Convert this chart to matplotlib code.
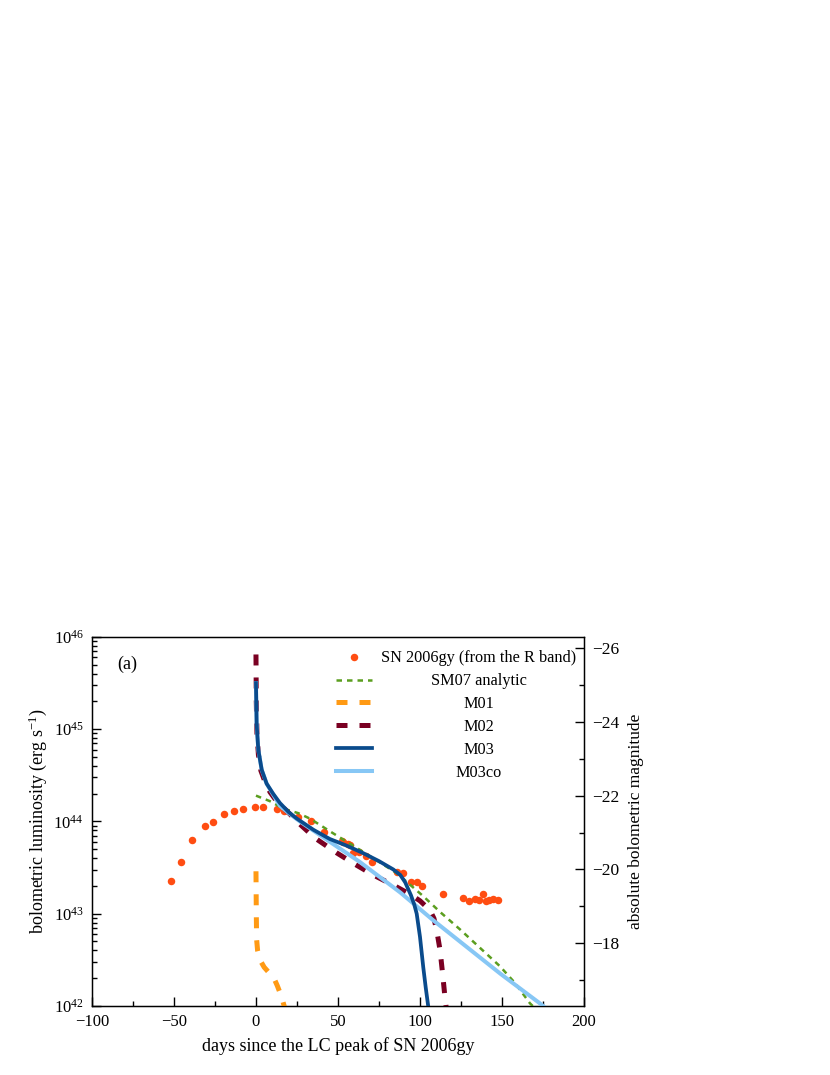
import numpy as np
import matplotlib
matplotlib.use("Agg")
import matplotlib.pyplot as plt
from matplotlib.ticker import LogLocator, LogFormatterMathtext, MultipleLocator, NullFormatter

plt.rcParams['font.family'] = ['Liberation Serif', 'DejaVu Serif']
plt.rcParams['mathtext.fontset'] = 'custom'
plt.rcParams['mathtext.rm'] = 'Liberation Serif'
plt.rcParams['mathtext.it'] = 'Liberation Serif:italic'
plt.rcParams['mathtext.bf'] = 'Liberation Serif:bold'
plt.rcParams['axes.unicode_minus'] = True

# ---------------- data ----------------
# SN 2006gy bolometric luminosity (from the R band): days, log10 L [erg/s]
sn_days = [-51.8, -45.9, -39.0, -31.3, -26.4, -19.5, -13.4, -7.7, -0.8, 4.1,
           13.0, 17.0, 25.8, 33.5, 41.5, 52.3, 53.2, 56.3, 57.3, 59.3, 63.0,
           67.1, 70.9, 85.8, 89.8, 94.5, 98.4, 101.0, 114.2, 126.0, 130.1,
           133.5, 136.0, 138.6, 140.2, 142.0, 144.7, 147.7]
sn_logL = [43.358, 43.558, 43.796, 43.954, 43.998, 44.078, 44.114, 44.136, 44.157, 44.157,
           44.132, 44.115, 44.052, 44.002, 43.889, 43.789, 43.780, 43.753, 43.745, 43.659, 43.673,
           43.626, 43.558, 43.456, 43.438, 43.341, 43.347, 43.304, 43.214, 43.174, 43.138,
           43.160, 43.150, 43.214, 43.138, 43.150, 43.160, 43.146]

# SM07 analytic
sm07_days = [0, 8.5, 16.6, 25.8, 33.0, 47.2, 65.4, 85.8, 102, 112.2, 124.4, 136.6, 148.8, 157.9, 167, 171]
sm07_logL = [44.28, 44.22, 44.14, 44.09, 44.03, 43.87, 43.67, 43.44, 43.19, 43.02, 42.83, 42.63, 42.43, 42.25, 42.03, 41.96]

# M01
m01_days = [0, 0.1, 0.2, 0.4, 1.0, 2.4, 5.0, 8.0, 10.5, 13.0, 15.6, 17.5]
m01_logL = [43.46, 43.25, 43.00, 42.72, 42.60, 42.50, 42.42, 42.36, 42.32, 42.22, 42.10, 41.98]

# M02
m02_days = [0, 0.2, 0.6, 1.5, 3.0, 5.5, 8.5, 12.6, 20.7, 26.8, 36, 49.2, 60, 71.5, 84.8,
            94, 100, 106, 108.5, 110.2, 112.2, 113.8, 115.2, 116.2]
m02_logL = [45.81, 45.30, 44.95, 44.72, 44.55, 44.43, 44.32, 44.22, 44.08, 43.97, 43.82, 43.66, 43.54, 43.42, 43.30,
            43.21, 43.14, 43.04, 42.95, 42.82, 42.61, 42.35, 42.10, 41.95]

# M03
m03_days = [0, 0.4, 1.4, 3.5, 6.5, 10.5, 14.6, 20, 25, 35, 45, 55, 65, 75, 83.7,
            88, 91, 94.5, 96.5, 98, 100, 102, 103.5, 105, 105.6]
m03_logL = [45.50, 45.06, 44.78, 44.56, 44.41, 44.30, 44.20, 44.10, 44.03, 43.91, 43.81, 43.74, 43.66, 43.57, 43.48,
            43.42, 43.34, 43.20, 43.10, 43.00, 42.75, 42.42, 42.20, 42.00, 41.90]

# M03co
m03co_days = [0, 0.4, 1.4, 3.5, 6.5, 10.5, 14.6, 20, 26.8, 45, 63.4, 88, 108, 128.5, 149, 173, 180]
m03co_logL = [45.50, 45.06, 44.78, 44.56, 44.41, 44.29, 44.17, 44.09, 44.00, 43.78, 43.56, 43.23, 42.93, 42.64, 42.35, 42.03, 41.93]

# ---------------- plot ----------------
fig = plt.figure(figsize=(8.3, 10.75), dpi=100)
ax = fig.add_axes([0.1108, 0.0642, 0.5928, 0.3433])

c_dots = '#ff4d12'
c_green = '#5b9e1f'
c_orange = '#ff9a14'
c_maroon = '#7a0022'
c_dblue = '#0a4b8c'
c_lblue = '#87c7f5'

L = lambda v: 10.0 ** np.asarray(v)

ax.plot(sn_days, L(sn_logL), 'o', color=c_dots, ms=5.4, mew=0, zorder=2,
        label='SN 2006gy (from the R band)')
ax.plot(sm07_days, L(sm07_logL), color=c_green, lw=1.8, dashes=(2.2, 2.0), zorder=3,
        label='SM07 analytic')
ax.plot(m01_days, L(m01_logL), color=c_orange, lw=3.6, dashes=(2.2, 2.4), zorder=3,
        label='M01')
ax.plot(m02_days, L(m02_logL), color=c_maroon, lw=3.6, dashes=(2.2, 2.4), zorder=3,
        label='M02')
ax.plot(m03_days, L(m03_logL), color=c_dblue, lw=2.7, zorder=5, label='M03')
ax.plot(m03co_days, L(m03co_logL), color=c_lblue, lw=2.9, zorder=4, label='M03co')

ax.set_yscale('log')
ax.set_xlim(-100, 200)
ax.set_ylim(1e42, 1e46)

ax.xaxis.set_major_locator(MultipleLocator(50))
ax.xaxis.set_minor_locator(MultipleLocator(25))
ax.yaxis.set_major_locator(LogLocator(base=10, numticks=10))
ax.yaxis.set_minor_locator(LogLocator(base=10, subs=np.arange(2, 10), numticks=20))
ax.yaxis.set_major_formatter(LogFormatterMathtext())
ax.yaxis.set_minor_formatter(NullFormatter())

ax.tick_params(which='both', direction='in', top=False, right=False, labelsize=12, width=1.0)
ax.tick_params(which='major', length=6.2, pad=6)
ax.tick_params(which='minor', length=3.8)
for s in ax.spines.values():
    s.set_linewidth(1.0)

ax.set_xlabel('days since the LC peak of SN 2006gy', fontsize=13, labelpad=5)
ax.set_ylabel('bolometric luminosity (erg s$^{-1}$)', fontsize=13, labelpad=3)

ax.text(0.051, 0.927, '(a)', transform=ax.transAxes, fontsize=13, va='center', ha='left')

# right axis: absolute bolometric magnitude
ax2 = ax.twinx()
mag_const = 88.7
ax2.set_ylim(mag_const - 2.5 * 42, mag_const - 2.5 * 46)
ax2.yaxis.set_major_locator(MultipleLocator(2))
ax2.yaxis.set_minor_locator(MultipleLocator(1))
ax2.tick_params(which='both', direction='in', labelsize=12.5, width=1.0)
ax2.tick_params(which='major', length=6.2, pad=6)
ax2.tick_params(which='minor', length=3.8)
ax2.set_ylabel('absolute bolometric magnitude', fontsize=12.5, labelpad=6)

leg = ax.legend(loc='upper right', bbox_to_anchor=(0.997, 0.981), frameon=False,
                fontsize=11.7, numpoints=1,
                handlelength=2.2, handletextpad=0.55, labelspacing=0.42,
                borderaxespad=0.0, borderpad=0.4)

# centre the legend labels in their column
fig.canvas.draw()
texts = leg.get_texts()
widths = [t.get_window_extent().width for t in texts]
wmax = max(widths)
for t, w in zip(texts, widths):
    t.set_position(((wmax - w) / 2.0, 0))

fig.savefig('out.png', dpi=100)
